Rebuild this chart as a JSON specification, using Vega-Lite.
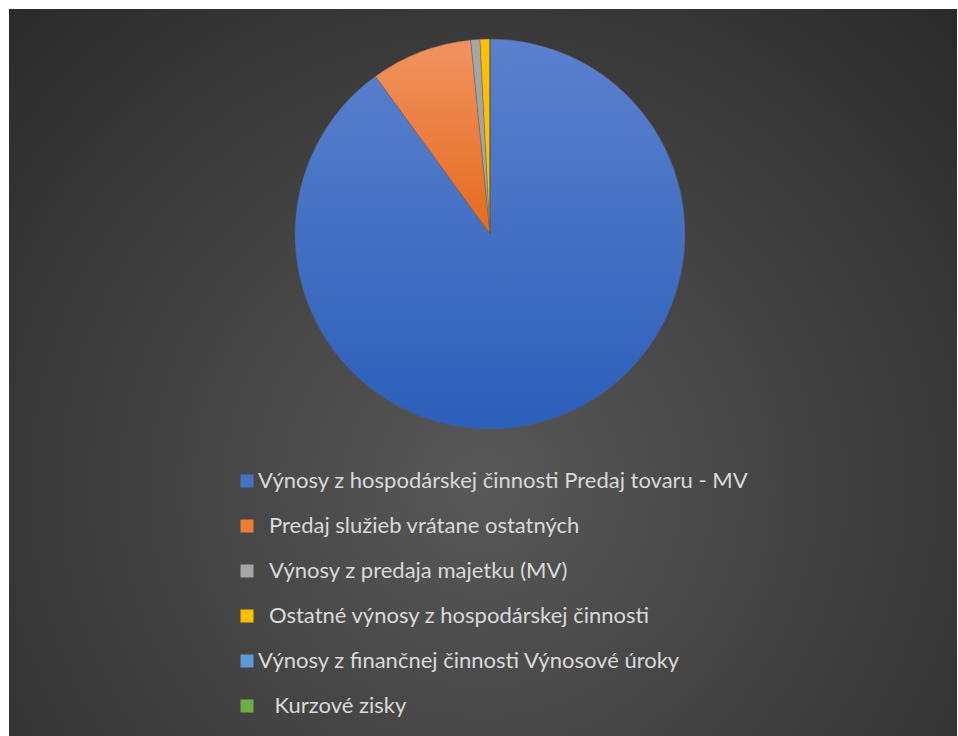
{
  "$schema": "https://vega.github.io/schema/vega-lite/v6.json",
  "width": 948,
  "height": 727,
  "autosize": {"type": "none"},
  "padding": {"left": 9, "top": 9, "right": 1, "bottom": 0},
  "background": "#ffffff",
  "config": {"view": {"stroke": null}},
  "layer": [
    {
      "data": {"values": [{"panel": "background"}]},
      "mark": {
        "type": "rect",
        "fill": {
          "gradient": "radial",
          "x1": 0.5, "y1": 0.62, "x2": 0.5, "y2": 0.62,
          "r1": 0, "r2": 0.72,
          "stops": [
            {"offset": 0, "color": "#585858"},
            {"offset": 1, "color": "#2a2a2a"}
          ]
        }
      },
      "encoding": {}
    },
    {
      "data": {
        "values": [
          {"category": "Výnosy z hospodárskej činnosti Predaj tovaru - MV", "value": 90.0, "order": 1},
          {"category": "Predaj služieb vrátane ostatných", "value": 8.42, "order": 2},
          {"category": "Výnosy z predaja majetku (MV)", "value": 0.76, "order": 3},
          {"category": "Ostatné výnosy z hospodárskej činnosti", "value": 0.82, "order": 4},
          {"category": "Výnosy z finančnej činnosti Výnosové úroky", "value": 0, "order": 5},
          {"category": "Kurzové zisky", "value": 0, "order": 6}
        ]
      },
      "mark": {"type": "arc", "outerRadius": 195, "x": 481, "y": 225, "stroke": "#5a5a5a", "strokeWidth": 0.4},
      "encoding": {
        "theta": {"field": "value", "type": "quantitative", "stack": true},
        "order": {"field": "order", "type": "quantitative"},
        "color": {
          "condition": [
            {"test": "datum.order === 1", "value": {"gradient": "linear", "x1": 0, "y1": 0, "x2": 0, "y2": 1, "stops": [{"offset": 0, "color": "#5B81CE"}, {"offset": 1, "color": "#2C5FBA"}]}},
            {"test": "datum.order === 2", "value": {"gradient": "linear", "x1": 0, "y1": 0, "x2": 0, "y2": 1, "stops": [{"offset": 0, "color": "#F19360"}, {"offset": 1, "color": "#E56A1D"}]}}
          ],
          "field": "category",
          "type": "nominal",
          "sort": null,
          "scale": {
            "domain": [
              "Výnosy z hospodárskej činnosti Predaj tovaru - MV",
              "Predaj služieb vrátane ostatných",
              "Výnosy z predaja majetku (MV)",
              "Ostatné výnosy z hospodárskej činnosti",
              "Výnosy z finančnej činnosti Výnosové úroky",
              "Kurzové zisky"
            ],
            "range": ["#4472C4", "#ED7D31", "#A5A5A5", "#FFC000", "#5B9BD5", "#70AD47"]
          },
          "legend": {
            "orient": "none",
            "legendX": 227,
            "legendY": 461,
            "title": null,
            "padding": 0,
            "symbolType": "square",
            "symbolSize": 169,
            "symbolStrokeWidth": 0,
            "symbolOpacity": 1,
            "labelFont": "Lato",
            "labelFontSize": 22,
            "labelColor": "#d9d9d9",
            "labelOffset": 0,
            "labelLimit": 800,
            "rowPadding": 23,
            "labelExpr": "indexof(['Predaj služieb vrátane ostatných', 'Výnosy z predaja majetku (MV)', 'Ostatné výnosy z hospodárskej činnosti'], datum.label) >= 0 ? '\u200d\u2002' + datum.label : (datum.label === 'Kurzové zisky' ? '\u200d\u2002\u2005' + datum.label : datum.label)"
          }
        }
      }
    }
  ]
}
